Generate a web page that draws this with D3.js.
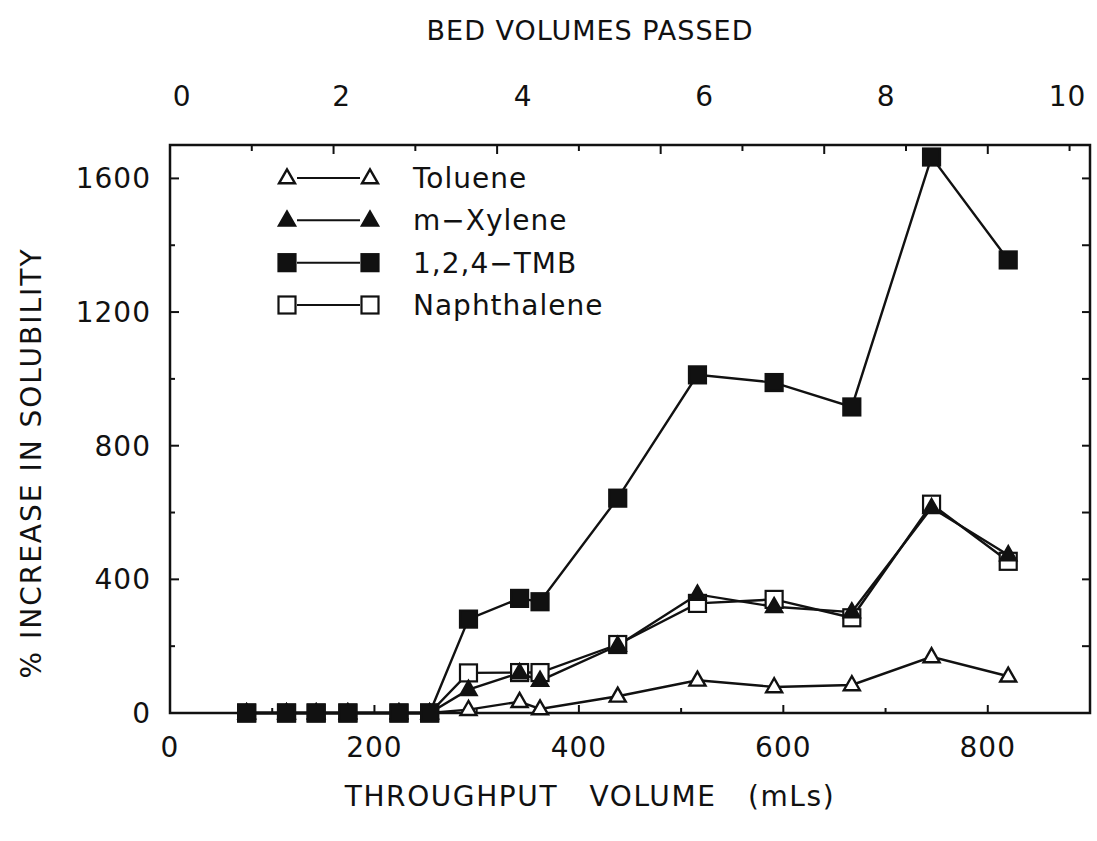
<!DOCTYPE html>
<html>
<head>
<meta charset="utf-8">
<script src="https://cdn.jsdelivr.net/npm/d3@7"></script>
<style>
  html, body { margin: 0; padding: 0; background: #fff; }
  svg { display: block; }
  text { font-family: "DejaVu Sans", "Liberation Sans", Arial, sans-serif; fill: #111; letter-spacing: 1px; }
</style>
</head>
<body>
<svg id="chart" width="1097" height="841"></svg>
<script>
// ---- data ----
const throughputML = [75, 114, 143, 174, 224, 254, 292, 342, 362, 438, 516, 591, 667, 745, 820];
const toluene     = [0, 0, 0, 0, 0, 0, 10, 34, 12, 50, 98, 78, 84, 168, 110];
const mXylene     = [0, 0, 0, 0, 0, 0, 70, 120, 97, 202, 355, 318, 302, 614, 473];
const tmb124      = [0, 0, 0, 0, 0, 0, 281, 343, 333, 643, 1012, 989, 916, 1664, 1356];
const naphthalene = [0, 0, 0, 0, 0, 0, 120, 121, 121, 205, 328, 340, 285, 625, 454];

const seriesNames = ["Toluene", "m\u2212Xylene", "1,2,4\u2212TMB", "Naphthalene"];
const xTickLabels = [0, 200, 400, 600, 800];
const yTickLabels = [0, 400, 800, 1200, 1600];
const bedVolumeLabels = [0, 2, 4, 6, 8, 10];
const xTitle = "THROUGHPUT   VOLUME   (mLs)";
const yTitle = "% INCREASE IN SOLUBILITY";
const topTitle = "BED VOLUMES PASSED";

(function () {
// ---- layout ----
const svg = d3.select("#chart");
const pL = 170, pR = 1090, pT = 145, pB = 713;
const x = d3.scaleLinear().domain([0, 900]).range([pL, pR]);
const y = d3.scaleLinear().domain([0, 1700]).range([pB, pT]);
const bv = d3.scaleLinear().domain([0, 2, 10]).range([x(12), x(168), x(878)]);

const FS = 28;
const g = svg.append("g");

// frame
g.append("rect").attr("x", pL).attr("y", pT)
  .attr("width", pR - pL).attr("height", pB - pT)
  .attr("fill", "none").attr("stroke", "#111").attr("stroke-width", 2.5);

// bottom ticks (inward) every 100
d3.range(100, 900, 100).forEach(v => {
  const len = v % 200 === 0 ? 8 : 5;
  g.append("line").attr("x1", x(v)).attr("x2", x(v)).attr("y1", pB).attr("y2", pB - len)
    .attr("stroke", "#111").attr("stroke-width", 2);
});
// top ticks (inward) every 80
d3.range(80, 900, 80).forEach(v => {
  const len = v % 160 === 0 ? 9 : 6;
  g.append("line").attr("x1", x(v)).attr("x2", x(v)).attr("y1", pT).attr("y2", pT + len)
    .attr("stroke", "#111").attr("stroke-width", 2);
});
// left / right ticks every 200
d3.range(200, 1700, 200).forEach(v => {
  const len = v % 400 === 0 ? 9 : 5;
  g.append("line").attr("x1", pL).attr("x2", pL + len).attr("y1", y(v)).attr("y2", y(v))
    .attr("stroke", "#111").attr("stroke-width", 2);
  g.append("line").attr("x1", pR).attr("x2", pR - 8).attr("y1", y(v)).attr("y2", y(v))
    .attr("stroke", "#111").attr("stroke-width", 2);
});

// tick labels
g.selectAll(".xl").data(xTickLabels).enter().append("text")
  .attr("x", d => x(d)).attr("y", 757).attr("text-anchor", "middle")
  .attr("font-size", FS).text(d => d);
g.selectAll(".yl").data(yTickLabels).enter().append("text")
  .attr("x", 151).attr("y", d => y(d) + 10).attr("text-anchor", "end")
  .attr("font-size", FS).text(d => d);
g.selectAll(".bl").data(bedVolumeLabels).enter().append("text")
  .attr("x", d => bv(d)).attr("y", 106).attr("text-anchor", "middle")
  .attr("font-size", FS).text(d => d);

// titles
g.append("text").attr("x", 590).attr("y", 806).attr("text-anchor", "middle")
  .attr("font-size", FS).style("white-space", "pre").style("letter-spacing", "1.6px").text(xTitle);
g.append("text").attr("x", 590).attr("y", 40).attr("text-anchor", "middle")
  .attr("font-size", 27).style("letter-spacing", "1px").text(topTitle);
g.append("text").attr("transform", "translate(41,463) rotate(-90)").attr("text-anchor", "middle")
  .attr("font-size", FS).style("letter-spacing", "2px").text(yTitle);

// markers
function marker(sel, type, cx, cy) {
  const s = 17;
  if (type === "sqFill" || type === "sqOpen") {
    sel.append("rect").attr("x", cx - s / 2).attr("y", cy - s / 2).attr("width", s).attr("height", s)
      .attr("fill", type === "sqFill" ? "#111" : "#fff").attr("stroke", "#111").attr("stroke-width", 2.2);
  } else {
    const w = 16, h = 14;
    const pts = [[cx, cy - h * 0.62], [cx - w / 2, cy + h * 0.38], [cx + w / 2, cy + h * 0.38]];
    sel.append("polygon").attr("points", pts.map(p => p.join(",")).join(" "))
      .attr("fill", type === "triFill" ? "#111" : "#fff").attr("stroke", "#111")
      .attr("stroke-width", 2.4);
  }
}

const series = [
  { name: seriesNames[3], vals: naphthalene, type: "sqOpen" },
  { name: seriesNames[1], vals: mXylene, type: "triFill" },
  { name: seriesNames[0], vals: toluene, type: "triOpen" },
  { name: seriesNames[2], vals: tmb124, type: "sqFill" }
];
const line = d3.line().x(d => x(d[0])).y(d => y(d[1]));

series.forEach(s => {
  const pts = throughputML.map((v, i) => [v, s.vals[i]]);
  g.append("path").attr("d", line(pts)).attr("fill", "none")
    .attr("stroke", "#111").attr("stroke-width", 2.4);
});
series.forEach(s => {
  throughputML.forEach((v, i) => marker(g, s.type, x(v), y(s.vals[i])));
});

// legend
const legendOrder = [
  { name: seriesNames[0], type: "triOpen" },
  { name: seriesNames[1], type: "triFill" },
  { name: seriesNames[2], type: "sqFill" },
  { name: seriesNames[3], type: "sqOpen" }
];
const legendY = d3.scalePoint().domain(legendOrder.map(d => d.name)).range([178, 305]);
legendOrder.forEach(d => {
  const ly = legendY(d.name);
  g.append("line").attr("x1", 297).attr("x2", 360).attr("y1", ly).attr("y2", ly)
    .attr("stroke", "#111").attr("stroke-width", 2);
  marker(g, d.type, 287, ly);
  marker(g, d.type, 370, ly);
  g.append("text").attr("x", 413).attr("y", ly + 10).attr("font-size", FS).text(d.name);
});
})();
</script>
</body>
</html>
